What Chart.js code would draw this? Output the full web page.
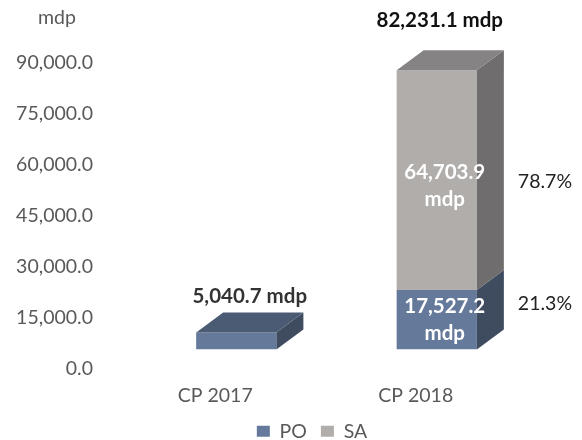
<!DOCTYPE html>
<html>
<head>
<meta charset="utf-8">
<script src="https://cdn.jsdelivr.net/npm/chart.js@4/dist/chart.umd.min.js"></script>
<style>
  html, body { margin: 0; padding: 0; background: #fff; }
</style>
</head>
<body>
<canvas id="chart" width="582" height="440"></canvas>
<script>
const categories = ['CP 2017', 'CP 2018'];
const poValues = [5040.7, 17527.2];
const saValues = [null, 64703.9];
const yTicks = [0, 15000, 30000, 45000, 60000, 75000, 90000];
const unit = 'mdp';

const FONT = 'Lato, "Open Sans", sans-serif';
const DX = 27, DY = 20;
const colors = {
  PO: { front: '#65799a', top: '#4c5b74', side: '#3f4c60' },
  SA: { front: '#b0adab', top: '#858383', side: '#6f6d6d' }
};

function fmt(v) {
  return v.toLocaleString('en-US', { minimumFractionDigits: 1, maximumFractionDigits: 1 });
}

function poly(ctx, pts) {
  ctx.beginPath();
  ctx.moveTo(pts[0][0], pts[0][1]);
  for (let i = 1; i < pts.length; i++) ctx.lineTo(pts[i][0], pts[i][1]);
  ctx.closePath();
  ctx.fill();
}

// side and top faces + labels for the fake 3D look
const bar3d = {
  id: 'bar3d',
  afterDatasetsDraw(chart) {
    const ctx = chart.ctx;
    const metas = chart.getSortedVisibleDatasetMetas();
    ctx.save();
    categories.forEach((cat, i) => {
      const segs = [];
      metas.forEach(meta => {
        const ds = chart.data.datasets[meta.index];
        const val = ds.data[i];
        if (val == null) return;
        const p = meta.data[i].getProps(['x', 'y', 'base', 'width'], true);
        const r = p.x + p.width / 2;
        ctx.fillStyle = colors[ds.label].side;
        poly(ctx, [[r, p.y], [r + DX, p.y - DY], [r + DX, p.base - DY], [r, p.base]]);
        segs.push({ key: ds.label, val, ...p });
      });
      if (!segs.length) return;
      const top = segs[segs.length - 1];
      const l = top.x - top.width / 2, r = top.x + top.width / 2;
      ctx.fillStyle = colors[top.key].top;
      poly(ctx, [[l, top.y], [l + DX, top.y - DY], [r + DX, top.y - DY], [r, top.y]]);

      // total above the bar
      const total = segs.reduce((s, g) => s + g.val, 0);
      const last = i === categories.length - 1;
      ctx.font = 'bold 20.5px ' + FONT;
      ctx.textAlign = 'center';
      ctx.textBaseline = 'middle';
      ctx.fillStyle = last ? '#111' : '#333';
      ctx.fillText(fmt(total) + ' ' + unit, top.x + (last ? 3 : DX / 2), top.y - DY - (last ? 30 : 16));

      if (segs.length > 1) {
        segs.forEach(g => {
          const mid = (g.y + g.base) / 2 + (g.key === 'SA' ? 5 : 0);
          ctx.font = 'bold 20.5px ' + FONT;
          ctx.fillStyle = '#fff';
          ctx.textAlign = 'center';
          ctx.fillText(fmt(g.val), g.x + 8, mid - 13);
          ctx.fillText(unit, g.x + 8, mid + 14);
          const pct = (g.val / total * 100).toFixed(1) + '%';
          ctx.font = '19.5px ' + FONT;
          ctx.fillStyle = '#222';
          ctx.textAlign = 'left';
          ctx.fillText(pct, g.x + g.width / 2 + DX + 14, (g.y + g.base) / 2 + (g.key === 'SA' ? 2 : -16));
        });
      }
    });

    // unit above the value axis
    ctx.font = '19.5px ' + FONT;
    ctx.fillStyle = '#595959';
    ctx.textAlign = 'center';
    ctx.textBaseline = 'middle';
    ctx.fillText(unit, 57, 18);
    ctx.restore();
  },
  afterLayout(chart) {
    // legend sits a bit right of centre in the original
    chart.legend.left += 36;
    chart.legend.right += 36;
  }
};

new Chart(document.getElementById('chart'), {
  type: 'bar',
  data: {
    labels: categories,
    datasets: [
      { label: 'PO', data: poValues, backgroundColor: colors.PO.front },
      { label: 'SA', data: saValues, backgroundColor: colors.SA.front }
    ]
  },
  options: {
    responsive: false,
    animation: false,
    layout: { padding: { top: 44, right: 45, bottom: -11, left: 15 } },
    datasets: { bar: { barPercentage: 0.4, categoryPercentage: 1.0 } },
    scales: {
      x: {
        stacked: true,
        grid: { display: false, drawTicks: false },
        border: { display: false },
        ticks: { color: '#595959', font: { family: FONT, size: 19.5 }, padding: 35, labelOffset: -21 },
        afterFit(s) { s.height = 58; }
      },
      y: {
        stacked: true,
        min: 0,
        max: 90000,
        afterBuildTicks(s) { s.ticks = yTicks.map(v => ({ value: v })); },
        grid: { display: false, drawTicks: false },
        border: { display: false },
        ticks: {
          color: '#595959',
          font: { family: FONT, size: 19.5 },
          padding: 43,
          labelOffset: 19,
          callback: v => fmt(v)
        },
        afterFit(s) {
          s.width = 121;
          s.paddingTop = 0;
          s.paddingBottom = 0;
        }
      }
    },
    plugins: {
      tooltip: { enabled: false },
      legend: {
        position: 'bottom',
        labels: {
          color: '#595959',
          font: { family: FONT, size: 19.5 },
          boxWidth: 13,
          boxHeight: 11,
          padding: 14
        }
      }
    }
  },
  plugins: [bar3d]
});
</script>
</body>
</html>
